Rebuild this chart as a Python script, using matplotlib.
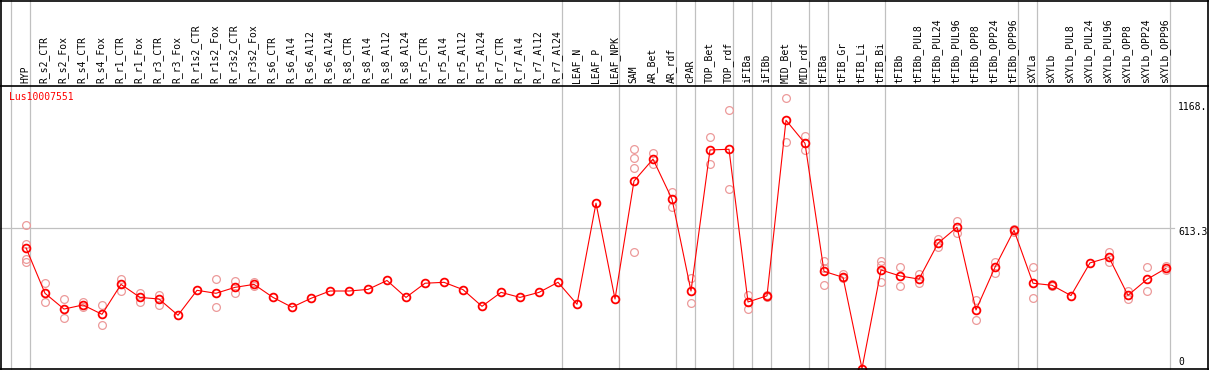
import matplotlib
matplotlib.use('Agg')
import matplotlib.pyplot as plt
import matplotlib.transforms as mtransforms
from matplotlib.lines import Line2D

# ---------------- data ----------------
samples = ['HYP', 'R_s2_CTR', 'R_s2_Fox', 'R_s4_CTR', 'R_s4_Fox', 'R_r1_CTR', 'R_r1_Fox',
           'R_r3_CTR', 'R_r3_Fox', 'R_r1s2_CTR', 'R_r1s2_Fox', 'R_r3s2_CTR', 'R_r3s2_Fox',
           'R_s6_CTR', 'R_s6_Al4', 'R_s6_Al12', 'R_s6_Al24', 'R_s8_CTR', 'R_s8_Al4',
           'R_s8_Al12', 'R_s8_Al24', 'R_r5_CTR', 'R_r5_Al4', 'R_r5_Al12', 'R_r5_Al24',
           'R_r7_CTR', 'R_r7_Al4', 'R_r7_Al12', 'R_r7_Al24', 'LEAF_N', 'LEAF_P', 'LEAF_NPK',
           'SAM', 'AR_Bet', 'AR_rdf', 'cPAR', 'TOP_Bet', 'TOP_rdf', 'iFIBa', 'iFIBb',
           'MID_Bet', 'MID_rdf', 'tFIBa', 'tFIB_Gr', 'tFIB_Li', 'tFIB_Bi', 'tFIBb',
           'tFIBb_PUL8', 'tFIBb_PUL24', 'tFIBb_PUL96', 'tFIBb_OPP8', 'tFIBb_OPP24',
           'tFIBb_OPP96', 'sXYLa', 'sXYLb', 'sXYLb_PUL8', 'sXYLb_PUL24', 'sXYLb_PUL96',
           'sXYLb_OPP8', 'sXYLb_OPP24', 'sXYLb_OPP96']

means = [528, 329, 260, 278, 237, 368, 311, 304, 233, 342, 329, 355, 368,
         311, 268, 307, 339, 339, 346, 385, 311, 373, 377, 345, 272,
         333, 311, 333, 377, 281, 723, 304,
         820, 916, 741, 339, 956, 959, 291, 318,
         1086, 985, 425, 399, 0, 431, 405,
         391, 548, 618, 256, 443, 605,
         373, 364, 319, 462, 486, 320, 390, 438]

replicates = [[627, 543, 478, 466], [373, 290], [304, 220], [290, 268], [276, 192],
              [392, 340], [332, 291], [322, 278], [], [], [390, 268], [383, 329],
              [378, 360],
              [], [], [], [], [], [], [], [], [], [], [], [],
              [], [], [], [],
              [], [], [],
              [959, 919, 876, 511], [941, 895], [773, 708], [395, 285],
              [1011, 895], [1131, 785], [322, 262], [322, 314],
              [1183, 990], [1017, 956], [472, 440, 365], [412, 395], [],
              [472, 453, 377], [445, 362],
              [412, 375], [566, 533], [645, 591], [300, 212], [466, 416], [612, 598],
              [443, 307], [368, 360], [], [], [508, 467], [340, 304], [443, 339],
              [450, 430]]

# index of last column in each group (separator drawn right of it)
group_ends = [-1, 0, 28, 31, 34, 35, 37, 38, 39, 41, 42, 45, 52, 53, 60]

gene = 'Lus10007551'
max_label = '1168.'
mid_value = 613.3
mid_label = '613.3'

# ---------------- layout ----------------
W, H = 1209, 370
header_px = 85
x0_px, dx_px = 26.0, 19.0
zero_px = 368.5          # pixel row of value 0 (from top)
px_per_unit = 0.2286

fig = plt.figure(figsize=(W / 100, H / 100), dpi=100)
fig.patch.set_facecolor('white')

plot_h = H - header_px
ax = fig.add_axes([0, 0, 1, plot_h / H])
hx = fig.add_axes([0, plot_h / H, 1, header_px / H])

xlim = (-x0_px / dx_px, (W - x0_px) / dx_px)
ybot = -(H - zero_px) / px_per_unit
ytop = ybot + plot_h / px_per_unit
for a in (ax, hx):
    a.set_xlim(*xlim)
    a.axis('off')
ax.set_ylim(ybot, ytop)
hx.set_ylim(0, 1)

mono = 'DejaVu Sans Mono'
fs = 7

grid_c = '#c0c0c0'
sep_off = 4.3 / dx_px
for k in group_ends:
    for a in (ax, hx):
        a.axvline(k + sep_off, color=grid_c, lw=0.9, zorder=1)

# horizontal gridline at mid value
xr_end = (1174 - x0_px) / dx_px
ax.plot([xlim[0], xr_end], [mid_value, mid_value], color=grid_c, lw=0.9, zorder=1)

# header labels
htrans = mtransforms.blended_transform_factory(hx.transData, hx.transAxes)
for i, s in enumerate(samples):
    hx.text(i - 0.05, 2.0 / header_px, s, rotation=90, ha='center', va='bottom',
            fontsize=fs, family=mono, color='black', transform=htrans)

# replicates
xs = list(range(len(samples)))
rx, ry = [], []
for i, reps in enumerate(replicates):
    for v in reps:
        rx.append(i)
        ry.append(v)
ax.plot(rx, ry, ls='none', marker='o', ms=5.6, mfc='none', mec='#ec9a9a',
        mew=0.9, zorder=2, clip_on=False)

# mean line
ax.plot(xs, means, color='red', lw=0.8, marker='o', ms=5.6, mfc='none',
        mec='red', mew=1.3, zorder=3, clip_on=False)

# gene name
ax.text(9.5 / W, (H - 97.5) / plot_h, gene, transform=ax.transAxes, ha='left',
        va='center', fontsize=fs, family=mono, color='red')

# right labels
lab_x = (1178 - x0_px) / dx_px
def px_to_val(py):
    return (zero_px - py) / px_per_unit
ax.text(lab_x, px_to_val(106.5), max_label, ha='left', va='center', fontsize=fs,
        family=mono, color='black')
ax.text(lab_x, px_to_val(232.3), mid_label, ha='left', va='center', fontsize=fs,
        family=mono, color='black')
ax.text(lab_x, px_to_val(362.3), '0', ha='left', va='center', fontsize=fs,
        family=mono, color='black')

# black frame lines (figure pixel coords)
def hline(ypx, x1=0, x2=W):
    fig.add_artist(Line2D([x1 / W, x2 / W], [1 - ypx / H, 1 - ypx / H],
                          color='black', lw=1.2, transform=fig.transFigure))
def vline(xpx, y1=0, y2=H):
    fig.add_artist(Line2D([xpx / W, xpx / W], [1 - y1 / H, 1 - y2 / H],
                          color='black', lw=1.2, transform=fig.transFigure))
hline(0.6)
hline(header_px + 0.5)
hline(H - 0.8)
vline(1.2)
vline(W - 0.8)

fig.savefig('out.png', dpi=100, facecolor='white')
